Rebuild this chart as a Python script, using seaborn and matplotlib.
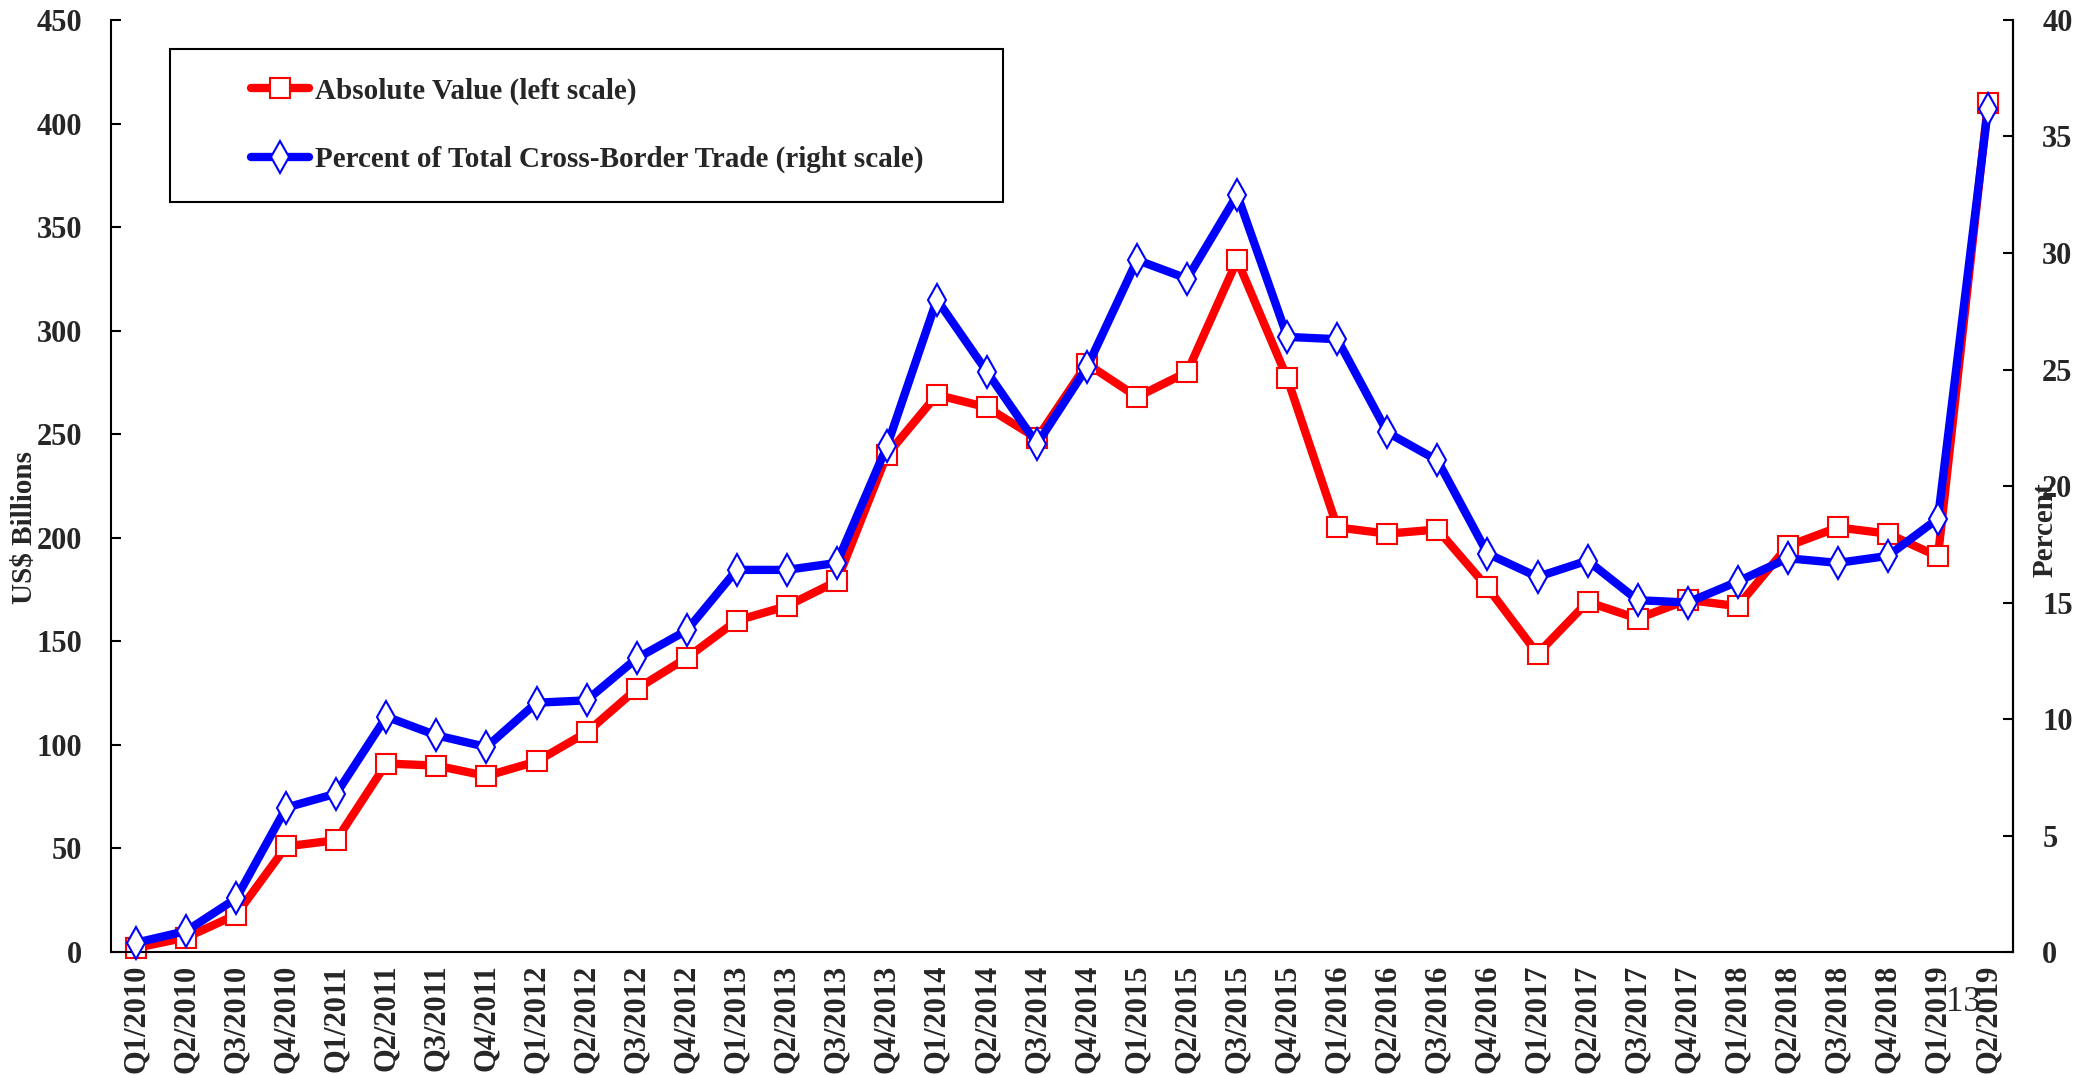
import numpy as np
import pandas as pd
import seaborn as sns
import matplotlib.pyplot as plt
from matplotlib.patches import Rectangle

# quarterly data
quarters = ['Q1/2010', 'Q2/2010', 'Q3/2010', 'Q4/2010',
            'Q1/2011', 'Q2/2011', 'Q3/2011', 'Q4/2011',
            'Q1/2012', 'Q2/2012', 'Q3/2012', 'Q4/2012',
            'Q1/2013', 'Q2/2013', 'Q3/2013', 'Q4/2013',
            'Q1/2014', 'Q2/2014', 'Q3/2014', 'Q4/2014',
            'Q1/2015', 'Q2/2015', 'Q3/2015', 'Q4/2015',
            'Q1/2016', 'Q2/2016', 'Q3/2016', 'Q4/2016',
            'Q1/2017', 'Q2/2017', 'Q3/2017', 'Q4/2017',
            'Q1/2018', 'Q2/2018', 'Q3/2018', 'Q4/2018',
            'Q1/2019', 'Q2/2019']
abs_value = [2, 7, 18, 51, 54, 91, 90, 85, 92, 106, 127, 142,
             160, 167, 179, 240, 269, 263, 248, 284, 268, 280, 334, 277,
             205, 202, 204, 176, 144, 169, 161, 170, 167, 196, 205, 202,
             191, 410]
pct_total = [0.4, 0.9, 2.3, 6.2, 6.8, 10.1, 9.3, 8.8, 10.7, 10.8, 12.6, 13.8,
             16.4, 16.4, 16.7, 21.7, 28.0, 24.9, 21.8, 25.1, 29.7, 28.9, 32.5, 26.4,
             26.3, 22.3, 21.1, 17.1, 16.1, 16.8, 15.1, 15.0, 15.9, 16.9, 16.7, 17.0,
             18.6, 36.2]
left_ticks = list(range(0, 451, 50))
right_ticks = list(range(0, 41, 5))

df = pd.DataFrame({'pos': np.arange(len(quarters)), 'quarter': quarters,
                   'abs': abs_value, 'pct': pct_total})

sns.set_style("white")
plt.rcParams['font.family'] = ['Liberation Serif', 'DejaVu Serif']
plt.rcParams['font.weight'] = 'bold'

fig = plt.figure(figsize=(20.8, 10.75), dpi=100)
ax = fig.add_axes([0.0534, 0.1144, 0.9144, 0.8670])
ax2 = ax.twinx()

red = '#ff0000'
blue = '#0000ff'
sns.lineplot(data=df, x='pos', y='abs', ax=ax, color=red, lw=6,
             marker='s', ms=14, mfc='white', mec=red, mew=1.5, clip_on=False)
sns.lineplot(data=df, x='pos', y='pct', ax=ax2, color=blue, lw=6,
             marker='d', ms=16, mfc='white', mec=blue, mew=1.5, clip_on=False)

ax.set_xlim(-0.5, len(quarters) - 0.5)
ax.set_ylim(0, 450)
ax2.set_ylim(0, 40)

ax.set_xticks(df['pos'])
ax.set_xticklabels(quarters, rotation=90, fontsize=22, fontweight='bold')
ax.set_xticks(np.arange(0.5, len(quarters) - 1, 1.0), minor=True)
ax.tick_params(axis='x', which='major', length=0, pad=9)
ax.tick_params(axis='x', which='minor', direction='in', length=7, width=1.5, color='black')

ax.set_yticks(left_ticks)
ax.set_yticklabels([str(t) for t in left_ticks], fontsize=22, fontweight='bold')
ax.tick_params(axis='y', direction='in', length=7, width=1.5, color='black', pad=21, left=True)
ax2.set_yticks(right_ticks)
ax2.set_yticklabels([str(t) for t in right_ticks], fontsize=22, fontweight='bold')
ax2.tick_params(axis='y', direction='in', length=7, width=1.5, color='black', pad=21, right=True)

ax.set_xlabel('')
ax.set_ylabel('')
ax2.set_ylabel('')
for a in (ax, ax2):
    a.spines['top'].set_visible(False)
    for s in a.spines.values():
        s.set_color('black')
        s.set_linewidth(1.5)
ax2.spines['left'].set_visible(False)
ax2.spines['bottom'].set_visible(False)

fig.text(0.012, 0.509, 'US$ Billions', rotation=90, ha='center', va='center',
         fontsize=21, fontweight='bold')
fig.text(0.983, 0.507, 'Percent', rotation=90, ha='center', va='center',
         fontsize=21, fontweight='bold')

# legend with a plain box
fig.patches.append(Rectangle((0.0817, 0.812), 0.4005, 0.1423, transform=fig.transFigure,
                             fill=False, edgecolor='black', linewidth=1.5))
handles = [ax.lines[0], ax2.lines[0]]
labels = ['Absolute Value (left scale)', 'Percent of Total Cross-Border Trade (right scale)']
leg = ax2.legend(handles, labels, loc='center left', bbox_to_anchor=(0.1135, 0.8833),
                 bbox_transform=fig.transFigure, frameon=False, numpoints=1,
                 handlelength=2.0, handletextpad=0.2, labelspacing=1.4, borderpad=0,
                 prop={'family': 'Liberation Serif', 'weight': 'bold', 'size': 21})

fig.text(0.9438, 0.067, '13', ha='center', va='center', fontsize=25, fontweight='normal')

fig.savefig('out.png', dpi=100)
